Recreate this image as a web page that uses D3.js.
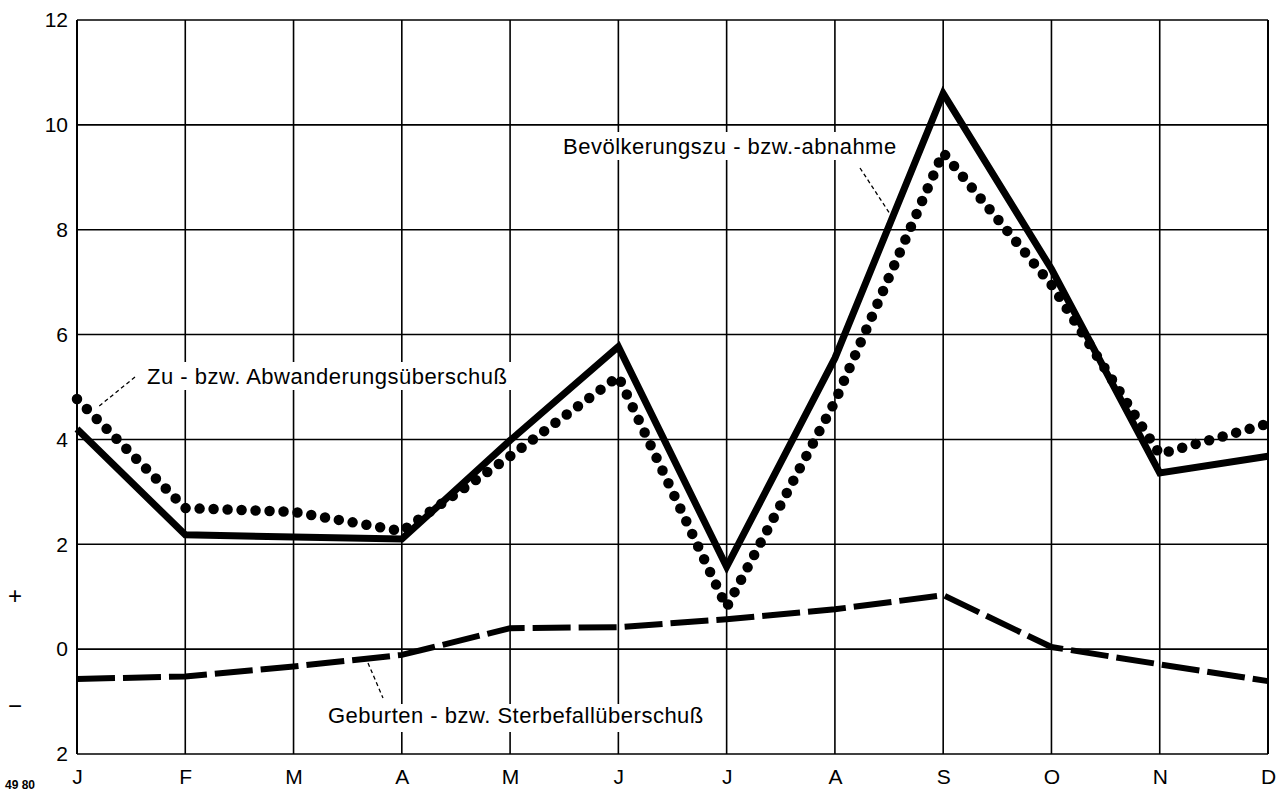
<!DOCTYPE html>
<html><head><meta charset="utf-8">
<script src="https://cdn.jsdelivr.net/npm/d3@7"></script>
<style>
body{margin:0;background:#fff;}
svg{display:block;font-family:"Liberation Sans",Arial,sans-serif;}
</style></head>
<body><svg id="c" width="1288" height="793"></svg>
<script>
const months = ["J","F","M","A","M","J","J","A","S","O","N","D"];
const yTickValues = [-2,0,2,4,6,8,10,12];
const yTickLabels = ["2","0","2","4","6","8","10","12"];
// Bevölkerungszu- bzw. -abnahme (solid)
const bevoelkerung = [4.2,2.18,2.14,2.1,3.98,5.77,1.57,5.55,10.6,7.25,3.36,3.68];
// Zu- bzw. Abwanderungsüberschuß (dotted)
const wanderung = [4.77,2.69,2.62,2.25,3.68,5.2,0.8,4.72,9.47,6.95,3.72,4.3];
// Geburten- bzw. Sterbefallüberschuß (dashed)
const geburten = [-0.57,-0.52,-0.33,-0.11,0.4,0.42,0.57,0.76,1.03,0.04,-0.29,-0.61];

const svg = d3.select("#c");
const x = d3.scaleLinear().domain([0,11]).range([77,1268]);
const y = d3.scaleLinear().domain([-2,12]).range([754,20]);

// grid
const g = svg.append("g");
g.selectAll("line.h").data(yTickValues).join("line")
  .attr("x1",x(0)).attr("x2",x(11)).attr("y1",d=>y(d)).attr("y2",d=>y(d))
  .attr("stroke","#000").attr("stroke-width",1.6);
g.selectAll("line.v").data(d3.range(12)).join("line")
  .attr("y1",y(12)).attr("y2",y(-2)).attr("x1",d=>x(d)).attr("x2",d=>x(d))
  .attr("stroke","#000").attr("stroke-width",d=> (d===0||d===11)?2:1.6);

// axes (labels only)
const ax = svg.append("g").attr("transform",`translate(0,${y(-2)})`)
  .call(d3.axisBottom(x).tickValues(d3.range(12)).tickFormat(i=>months[i]).tickSize(0).tickPadding(15));
ax.select(".domain").remove();
ax.selectAll("text").attr("font-size",21).attr("fill","#000").attr("font-family","Liberation Sans, Arial, sans-serif");

const ay = svg.append("g").attr("transform",`translate(${x(0)},0)`)
  .call(d3.axisLeft(y).tickValues(yTickValues).tickFormat((d,i)=>yTickLabels[i]).tickSize(0).tickPadding(9));
ay.select(".domain").remove();
ay.selectAll("text").attr("font-size",21).attr("fill","#000").attr("font-family","Liberation Sans, Arial, sans-serif");

const line = d3.line().x((d,i)=>x(i)).y(d=>y(d));

// dashed
svg.append("path").attr("d",line(geburten)).attr("fill","none").attr("stroke","#000")
  .attr("stroke-width",6).attr("stroke-dasharray","38 8");
// dotted
svg.append("path").attr("d",line(wanderung)).attr("fill","none").attr("stroke","#000")
  .attr("stroke-width",10.5).attr("stroke-linecap","round").attr("stroke-dasharray","0 14");
// solid
svg.append("path").attr("d",line(bevoelkerung)).attr("fill","none").attr("stroke","#000")
  .attr("stroke-width",7).attr("stroke-linejoin","miter");

// annotations
function label(txt, tx, ty){
  svg.append("text").attr("x",tx).attr("y",ty).attr("font-size",22)
    .attr("letter-spacing",0.5).attr("fill","#000").text(txt);
}
function leader(x1,y1,x2,y2){
  svg.append("line").attr("x1",x1).attr("y1",y1).attr("x2",x2).attr("y2",y2)
    .attr("stroke","#000").attr("stroke-width",1.3).attr("stroke-dasharray","4 3");
}
function bg(x0,y0,w,h){ svg.append("rect").attr("x",x0).attr("y",y0).attr("width",w).attr("height",h).attr("fill","#fff"); }
bg(140,362,374,28); bg(558,132,338,28); bg(322,704,386,28);
label("Zu - bzw. Abwanderungsüberschuß",147,384);
label("Bevölkerungszu - bzw.-abnahme",563,154);
label("Geburten - bzw. Sterbefallüberschuß",328,723);
leader(135,377,98,407);
leader(860,168,892,217);
leader(368,663,383,698);

svg.append("text").attr("x",15).attr("y",604).attr("font-size",24).attr("text-anchor","middle").text("+");
svg.append("text").attr("x",15).attr("y",714).attr("font-size",24).attr("text-anchor","middle").text("−");
svg.append("text").attr("x",5).attr("y",789).attr("font-size",12).attr("font-weight","bold").text("49 80");
</script></body></html>
